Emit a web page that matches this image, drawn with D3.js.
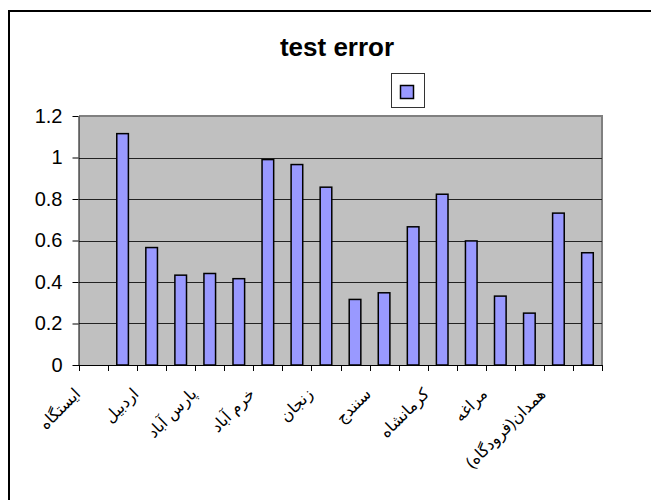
<!DOCTYPE html>
<html lang="fa">
<head>
    <meta charset="UTF-8">
    <title>test error</title>
    <script src="https://d3js.org/d3.v7.min.js"></script>
    <style>
        body{
            margin: 0;
            background: #fff;
        }
        svg text{
            font-family: "Liberation Sans", Arial, "DejaVu Sans", sans-serif;
        }
    </style>
</head>
<body>
    <div id="chart"></div>

    <script>
        // category labels (Excel only shows every other one)
        const categories = ["ایستگاه", "", "اردبیل", "", "پارس آباد", "", "خرم آباد", "", "زنجان", "",
                            "سنندج", "", "کرمانشاه", "", "مراغه", "", "همدان(فرودگاه)", ""];
        // test error per station (first column is the header, no bar)
        const values = [null, 1.115, 0.566, 0.433, 0.441, 0.416, 0.990, 0.966, 0.857,
                        0.316, 0.348, 0.666, 0.823, 0.598, 0.332, 0.250, 0.732, 0.541];
        const yTicks = [0, 0.2, 0.4, 0.6, 0.8, 1, 1.2];
        const title = "test error";

        const width = 651;
        const height = 500;
        const plot = {left: 79, right: 602, top: 116, bottom: 365};
        const barColor = "#9999ff";

        const svg = d3.select("#chart")
            .append("svg")
            .attr("width", width)
            .attr("height", height);

        // chart border (runs off the page right and bottom)
        svg.append("rect")
            .attr("x", 9).attr("y", 11)
            .attr("width", 700).attr("height", 600)
            .attr("fill", "#fff")
            .attr("stroke", "#000")
            .attr("stroke-width", 2);

        const idx = d3.range(categories.length);
        const x = d3.scaleBand()
            .domain(idx)
            .range([plot.left, plot.right])
            .paddingInner(0.6)
            .paddingOuter(0.3);
        const xCat = d3.scaleBand()
            .domain(idx)
            .range([plot.left, plot.right]);
        const y = d3.scaleLinear()
            .domain([0, 1.2])
            .range([plot.bottom, plot.top]);

        // plot area
        svg.append("rect")
            .attr("x", plot.left).attr("y", plot.top)
            .attr("width", plot.right - plot.left)
            .attr("height", plot.bottom - plot.top)
            .attr("fill", "#c0c0c0");
        svg.append("path")
            .attr("d", `M${plot.left},${plot.top}H${plot.right}V${plot.bottom}`)
            .attr("fill", "none")
            .attr("stroke", "#808080")
            .attr("stroke-width", 2);

        // gridlines
        svg.selectAll(".grid")
            .data(yTicks.filter(d => d > 0 && d < 1.2))
            .enter().append("line")
            .attr("class", "grid")
            .attr("x1", plot.left).attr("x2", plot.right)
            .attr("y1", d => Math.round(y(d)) + 0.5)
            .attr("y2", d => Math.round(y(d)) + 0.5)
            .attr("stroke", "#222");

        // bars
        svg.selectAll(".bar")
            .data(values.map((v, i) => ({i, v})).filter(d => d.v !== null))
            .enter().append("rect")
            .attr("class", "bar")
            .attr("x", d => x(d.i))
            .attr("y", d => y(d.v))
            .attr("width", x.bandwidth())
            .attr("height", d => y(0) - y(d.v))
            .attr("fill", barColor)
            .attr("stroke", "#000")
            .attr("stroke-width", 1.5);

        // y axis
        const yAxis = svg.append("g")
            .attr("transform", `translate(${plot.left - 0.5},0)`)
            .call(d3.axisLeft(y)
                .tickValues(yTicks)
                .tickSize(6)
                .tickSizeOuter(0)
                .tickPadding(10)
                .tickFormat(d => String(+d.toFixed(1))));
        yAxis.selectAll("text")
            .attr("font-size", 20)
            .attr("fill", "#000");
        yAxis.selectAll("line, path").attr("stroke", "#000");

        // x axis line and category ticks
        svg.append("line")
            .attr("x1", plot.left - 6).attr("x2", plot.right)
            .attr("y1", plot.bottom + 0.5).attr("y2", plot.bottom + 0.5)
            .attr("stroke", "#000");
        svg.selectAll(".xtick")
            .data(idx.concat([categories.length]))
            .enter().append("line")
            .attr("class", "xtick")
            .attr("x1", d => Math.round(d < categories.length ? xCat(d) : plot.right) + 0.5)
            .attr("x2", d => Math.round(d < categories.length ? xCat(d) : plot.right) + 0.5)
            .attr("y1", plot.bottom)
            .attr("y2", plot.bottom + 6)
            .attr("stroke", "#000");

        // rotated category labels
        svg.selectAll(".xlabel")
            .data(idx.filter(i => categories[i] !== ""))
            .enter().append("text")
            .attr("class", "xlabel")
            .attr("transform", i => `translate(${xCat(i) + xCat.bandwidth() / 2 - 16},${plot.bottom + 26}) rotate(-45)`)
            .attr("text-anchor", "end")
            .attr("dy", "0.35em")
            .attr("font-size", 16)
            .text(i => categories[i]);

        // title
        svg.append("text")
            .attr("x", 337)
            .attr("y", 56)
            .attr("text-anchor", "middle")
            .attr("font-size", 26)
            .attr("font-weight", "bold")
            .text(title);

        // legend (series has no name)
        const legend = svg.append("g").attr("transform", "translate(391,73)");
        legend.append("rect")
            .attr("x", 0.5).attr("y", 0.5)
            .attr("width", 33).attr("height", 34)
            .attr("fill", "#fff")
            .attr("stroke", "#333");
        legend.append("rect")
            .attr("x", 9.5).attr("y", 12.5)
            .attr("width", 13).attr("height", 13)
            .attr("fill", barColor)
            .attr("stroke", "#000")
            .attr("stroke-width", 1.5);
    </script>
</body>
</html>
